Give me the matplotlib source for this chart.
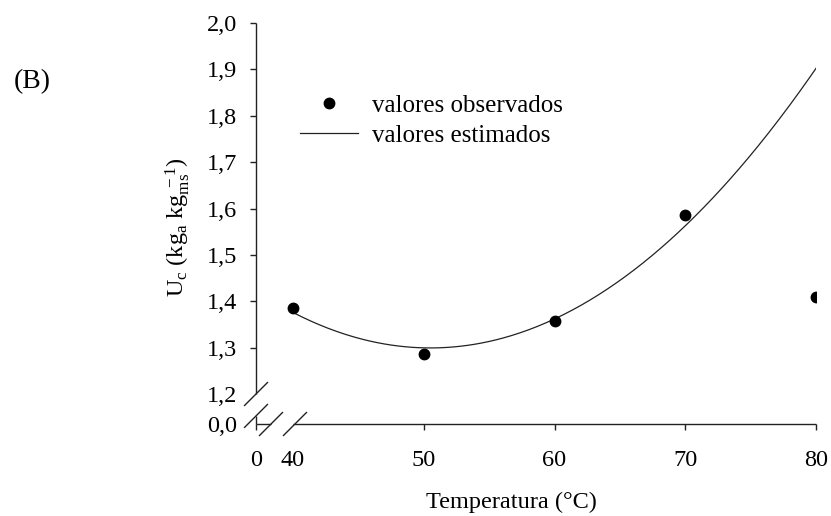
import numpy as np
import matplotlib
matplotlib.use("Agg")
import matplotlib.pyplot as plt
from matplotlib.ticker import FixedLocator, FuncFormatter
from matplotlib.lines import Line2D
from matplotlib.transforms import Affine2D, ScaledTranslation

# ---- data ----
temperatura = [40, 50, 60, 70, 80]                     # °C
uc_observado = [1.385, 1.286, 1.357, 1.586, 1.409]     # kg_a kg_ms^-1
# quadratic model  Uc = a + b*T + c*T^2
coef_modelo = [3.067, -0.0700, 0.000693]

y_ticks = [1.3, 1.4, 1.5, 1.6, 1.7, 1.8, 1.9, 2.0]
y_ticks_break = [0.0, 1.2]
x_ticks = [0, 50, 60, 70, 80]
x_ticks_break = [40]

plt.rcParams["font.family"] = ["Liberation Serif", "DejaVu Serif"]
plt.rcParams["mathtext.fontset"] = "custom"
plt.rcParams["mathtext.rm"] = "Liberation Serif"
plt.rcParams["mathtext.it"] = "Liberation Serif:italic"
FS = 17.5
INK = "#222222"

# broken axes: compress 0..40 (x) and 0..1.2 (y) into a short stretch
X_BRK, X_SQ = 40.0, 0.0708
Y_BRK, Y_SQ = 1.2, 0.0539


def fwd_x(v):
    v = np.asarray(v, dtype=float)
    return np.where(v >= X_BRK, v, X_BRK - (X_BRK - v) * X_SQ)


def inv_x(u):
    u = np.asarray(u, dtype=float)
    return np.where(u >= X_BRK, u, X_BRK - (X_BRK - u) / X_SQ)


def fwd_y(v):
    v = np.asarray(v, dtype=float)
    return np.where(v >= Y_BRK, v, Y_BRK - (Y_BRK - v) * Y_SQ)


def inv_y(u):
    u = np.asarray(u, dtype=float)
    return np.where(u >= Y_BRK, u, Y_BRK - (Y_BRK - u) / Y_SQ)


fig = plt.figure(figsize=(8.31, 5.16), dpi=100)
ax = fig.add_axes([256 / 831, 1 - 424 / 516, 560 / 831, 401 / 516])
ax.set_xscale("function", functions=(fwd_x, inv_x))
ax.set_yscale("function", functions=(fwd_y, inv_y))
ax.set_xlim(0, 80)
ax.set_ylim(0, 2.0)
for s in ax.spines.values():
    s.set_visible(False)

# model curve and observations
t_fit = np.linspace(temperatura[0], temperatura[-1], 300)
a, b, c = coef_modelo
ax.plot(t_fit, a + b * t_fit + c * t_fit ** 2, color=INK, lw=0.9,
        label="valores estimados")
ax.plot(temperatura, uc_observado, ls="none", marker="o", ms=7.5,
        color="black", label="valores observados")


# axis lines with break marks, offsets given in points from a data anchor
def seg(x0, y0, xs, ys):
    tr = (Affine2D().scale(1 / 72) + fig.dpi_scale_trans
          + ScaledTranslation(x0, y0, ax.transData))
    ax.add_line(Line2D(xs, ys, transform=tr, color=INK, lw=1.0,
                       clip_on=False, solid_capstyle="butt"))


h = 8.6  # half size of a break slash (pt)
# y axis
ax.plot([0, 0], [Y_BRK, 2.0], color=INK, lw=1.0, clip_on=False,
        solid_capstyle="butt")
seg(0, Y_BRK, [-h, h], [-h, h])
seg(0, 0, [0, 0], [0, 5.8])
seg(0, 0, [-h, h], [5.8 - h, 5.8 + h])
# x axis
ax.plot([X_BRK, 80], [0, 0], color=INK, lw=1.0, clip_on=False,
        solid_capstyle="butt")
seg(0, 0, [0, 10.8], [0, 0])
seg(0, 0, [10.8 - h, 10.8 + h], [-h, h])
seg(X_BRK, 0, [1.4 - h, 1.4 + h], [-h, h])

# ticks
comma = FuncFormatter(lambda v, p: f"{v:.1f}".replace(".", ","))
ax.yaxis.set_major_locator(FixedLocator(y_ticks))
ax.yaxis.set_minor_locator(FixedLocator(y_ticks_break))
ax.yaxis.set_major_formatter(comma)
ax.yaxis.set_minor_formatter(comma)
ax.xaxis.set_major_locator(FixedLocator(x_ticks))
ax.xaxis.set_minor_locator(FixedLocator(x_ticks_break))
ax.xaxis.set_major_formatter(FuncFormatter(lambda v, p: f"{v:.0f}"))
ax.xaxis.set_minor_formatter(FuncFormatter(lambda v, p: f"{v:.0f}"))
TL = 4.5
ax.tick_params(axis="y", which="major", direction="out", length=TL, width=1.0,
               color=INK, pad=9, labelsize=FS)
ax.tick_params(axis="y", which="minor", direction="out", length=0,
               pad=9 + TL, labelsize=FS)
ax.tick_params(axis="x", which="major", direction="out", length=TL, width=1.0,
               color=INK, pad=14, labelsize=FS)
ax.tick_params(axis="x", which="minor", direction="out", length=0,
               pad=14 + TL, labelsize=FS)

# labels
fig.text(511 / 831, 1 - 502 / 516, "Temperatura (°C)", ha="center",
         va="center", fontsize=FS)
fig.text(178 / 831, 1 - 297 / 516,
         r"U$_\mathregular{c}$ (kg$_\mathregular{a}$ "
         r"kg$_\mathregular{ms}^\mathregular{\ -1}$)",
         rotation=90, ha="center", va="bottom", fontsize=FS)
fig.text(32 / 831, 1 - 82 / 516, "(B)", ha="center", va="center",
         fontsize=20)

# legend
handles, labels = ax.get_legend_handles_labels()
ax.legend(handles[::-1], labels[::-1], loc="upper left",
          bbox_to_anchor=((300 - 256) / 560, (424 - 94) / 401),
          frameon=False, fontsize=18, borderpad=0, borderaxespad=0,
          handlelength=2.3, handletextpad=0.6, labelspacing=0.3,
          numpoints=1)

fig.savefig("out.png", dpi=100)
